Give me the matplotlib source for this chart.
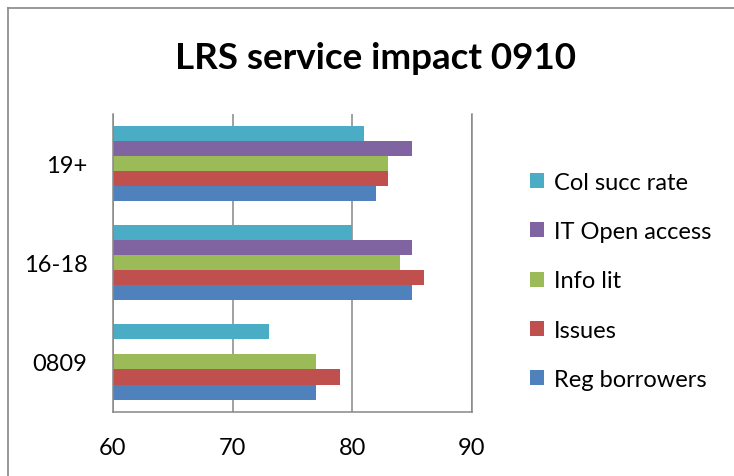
import matplotlib

matplotlib.use("Agg")
import matplotlib.pyplot as plt  # noqa: E402
import numpy as np  # noqa: E402
from matplotlib.lines import Line2D  # noqa: E402

plt.rcParams["font.family"] = ["Lato", "DejaVu Sans"]

categories = ["0809", "16-18", "19+"]
series_names = ["Reg borrowers", "Issues", "Info lit", "IT Open access", "Col succ rate"]
reg_borrowers = [77, 85, 82]
issues = [79, 86, 83]
info_lit = [77, 84, 83]
it_open_access = [np.nan, 85, 85]
col_succ_rate = [73, 80, 81]
xticks = [60, 70, 80, 90]

SERIES_COLORS = ["#4F81BD", "#C0504D", "#9BBB59", "#8064A2", "#4BACC6"]
GRID = "#878787"

values = [reg_borrowers, issues, info_lit, it_open_access, col_succ_rate]

fig = plt.figure(figsize=(7.34, 4.77), dpi=100)
ax = fig.add_axes([113 / 734, 1 - 412.5 / 477, (472 - 113) / 734, (412.5 - 115) / 477])

bar_h = 0.152
y = np.arange(len(categories))
handles = []
for i, (name, vals, color) in enumerate(zip(series_names, values, SERIES_COLORS)):
    bars = ax.barh(y + (i - 2) * bar_h, vals, height=bar_h, color=color, label=name,
                   zorder=2)
    handles.append(bars)

ax.set_xlim(60, 90)
ax.set_ylim(-0.5, 2.5)
ax.set_xticks(xticks)
ax.set_yticks(y)
ax.set_yticklabels(categories)
ax.tick_params(axis="both", length=0, pad=18.5, labelsize=17, colors="black")

ax.grid(axis="x", color=GRID, linewidth=1.1, zorder=1)
ax.set_axisbelow(True)
ax.spines["top"].set_visible(False)
for side in ("left", "bottom", "right"):
    ax.spines[side].set_color(GRID)
    ax.spines[side].set_linewidth(1.1)

fig.text(375.5 / 734, 1 - 69.3 / 477, "LRS service impact 0910", ha="center",
         va="baseline", fontsize=26.5, fontweight="bold")

fig.legend(handles[::-1], series_names[::-1], loc="center left",
           bbox_to_anchor=(530 / 734, 1 - 282 / 477), frameon=False,
           fontsize=17, handlelength=0.6, handleheight=0.6, handletextpad=0.4,
           labelspacing=1.2, borderpad=0, borderaxespad=0)

# chart border (only left and top edges are visible in the crop)
fig.add_artist(Line2D([7.5 / 734, 7.5 / 734], [0, 1 - 8.5 / 477], color=GRID,
                      linewidth=1.2, transform=fig.transFigure))
fig.add_artist(Line2D([7.5 / 734, 1], [1 - 8.5 / 477, 1 - 8.5 / 477], color=GRID,
                      linewidth=1.2, transform=fig.transFigure))

fig.savefig("out.png", dpi=100)
plt.close(fig)
